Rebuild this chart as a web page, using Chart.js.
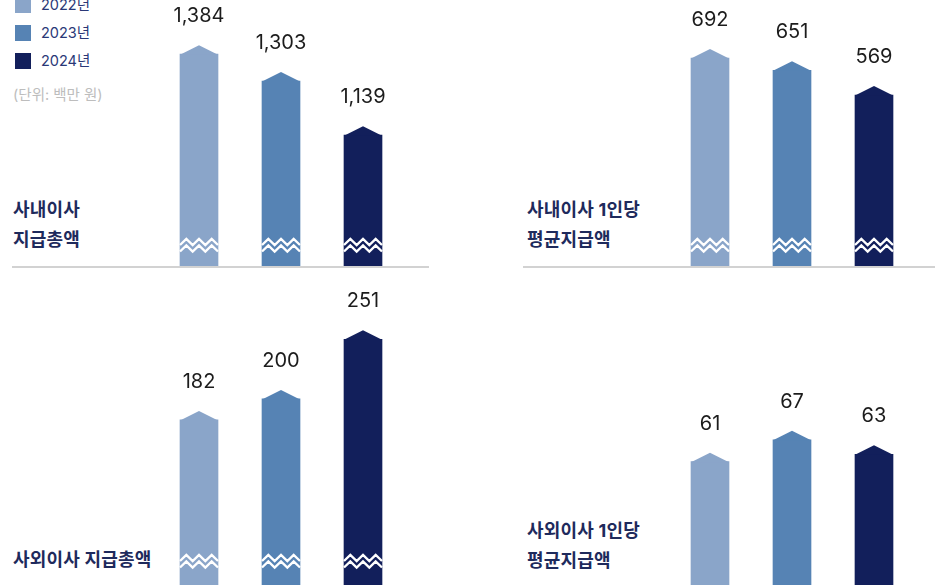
<!DOCTYPE html>
<html lang="ko">
<head>
<meta charset="utf-8">
<script src="https://cdn.jsdelivr.net/npm/chart.js@4/dist/chart.umd.min.js"></script>
<style>
  html, body { margin: 0; padding: 0; background: #fff; }
  body { width: 935px; height: 585px; overflow: hidden; position: relative;
         font-family: Inter, "Noto Sans CJK KR", "Noto Sans", sans-serif; }
  canvas { position: absolute; }
  .title { position: absolute; color: #1e2a5c; font-weight: 700; font-size: 18px; line-height: 30px; letter-spacing: 0.2px; }
  .rule { position: absolute; height: 2px; background: #d2d2d2; }
  .legend { position: absolute; left: 15px; top: -3px; font-size: 14.5px; color: #2a3877; }
  .legend div { height: 28px; line-height: 16px; position: relative; padding-left: 26px; }
  .legend span { position: absolute; left: 0; top: 0; width: 16px; height: 16px; }
  .unit { position: absolute; left: 13px; top: 83px; font-size: 14.5px; color: #bdbdbd; }
</style>
</head>
<body>
<div class="legend" id="legend"></div>
<div class="unit">(단위: 백만 원)</div>

<div class="title" style="left:13px; top:195px;">사내이사<br>지급총액</div>
<div class="title" style="left:527px; top:195px;">사내이사 1인당<br>평균지급액</div>
<div class="title" style="left:13px; top:545px;">사외이사 지급총액</div>
<div class="title" style="left:527px; top:516px;">사외이사 1인당<br>평균지급액</div>

<div class="rule" style="left:12px; top:266px; width:417px;"></div>
<div class="rule" style="left:523px; top:266px; width:412px;"></div>

<canvas id="c1"></canvas>
<canvas id="c2"></canvas>
<canvas id="c3"></canvas>
<canvas id="c4"></canvas>

<script>
const years = ['2022년', '2023년', '2024년'];
const colors = ['#8aa5c9', '#5683b4', '#121f5b'];

const insideTotal = [1384, 1303, 1139];     // 사내이사 지급총액
const insideAvg = [692, 651, 569];          // 사내이사 1인당 평균지급액
const outsideTotal = [182, 200, 251];       // 사외이사 지급총액
const outsideAvg = [61, 67, 63];            // 사외이사 1인당 평균지급액

// legend
const legend = document.getElementById('legend');
years.forEach((y, i) => {
  const row = document.createElement('div');
  row.innerHTML = `<span style="background:${colors[i]}"></span>${y}`;
  legend.appendChild(row);
});

// chevron top, zigzag break and value label for each bar
const barDeco = {
  id: 'barDeco',
  afterDatasetsDraw(chart, args, opts) {
    const ctx = chart.ctx;
    const bottom = chart.chartArea.bottom;
    const meta = chart.getDatasetMeta(0);
    meta.data.forEach((bar, i) => {
      const { x, y, width } = bar.getProps(['x', 'y', 'width'], true);
      const l = x - width / 2, r = x + width / 2;
      ctx.save();
      ctx.fillStyle = colors[i];
      ctx.beginPath();
      ctx.moveTo(l, y + 0.5);
      ctx.lineTo(x, y - 9);
      ctx.lineTo(r, y + 0.5);
      ctx.closePath();
      ctx.fill();

      if (opts.wave != null) {
        ctx.strokeStyle = '#ffffff';
        ctx.lineWidth = 2.4;
        [0, 6.5].forEach(off => {
          const top = bottom - opts.wave + off;
          ctx.beginPath();
          const step = width / 6;
          for (let k = 0; k <= 6; k++) {
            const px = l + k * step;
            const py = (k % 2 === 0) ? top + 6 : top;
            if (k === 0) ctx.moveTo(px, py); else ctx.lineTo(px, py);
          }
          ctx.stroke();
        });
      }

      ctx.fillStyle = '#1c1c1c';
      ctx.font = '20px Inter, "Noto Sans", sans-serif';
      ctx.textAlign = 'center';
      ctx.textBaseline = 'middle';
      ctx.fillText(chart.data.datasets[0].data[i].toLocaleString('en-US'), x, y - 38);
      ctx.restore();
    });
  }
};

function makeChart(id, left, top, height, values, min, max, wave) {
  const cv = document.getElementById(id);
  cv.width = 246;
  cv.height = height;
  cv.style.left = left + 'px';
  cv.style.top = top + 'px';
  return new Chart(cv, {
    type: 'bar',
    data: {
      labels: years,
      datasets: [{ data: values, backgroundColor: colors, barThickness: 38, borderWidth: 0, base: min }]
    },
    options: {
      responsive: false,
      animation: false,
      layout: { padding: 0 },
      scales: {
        x: { display: false },
        y: { display: false, min: min, max: max }
      },
      plugins: {
        legend: { display: false },
        tooltip: { enabled: false },
        barDeco: { wave: wave }
      }
    },
    plugins: [barDeco]
  });
}

makeChart('c1', 158, 0, 266, insideTotal, 743, 1548, 27);
makeChart('c2', 669, 0, 266, insideAvg, 0, 885, 27);
makeChart('c3', 158, 290, 310, outsideTotal, 27.9, 293.2, 45);
makeChart('c4', 669, 290, 370, outsideAvg, 6.57, 108.1, 45);
</script>
</body>
</html>
